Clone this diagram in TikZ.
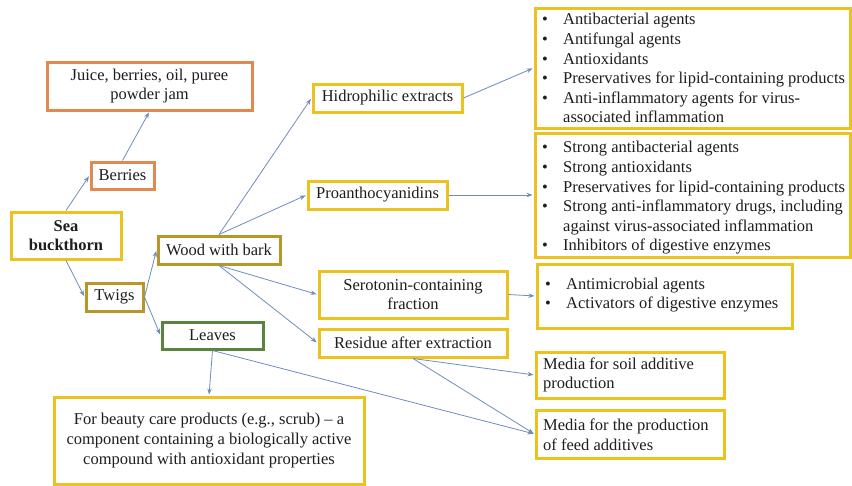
\documentclass[tikz,border=0pt]{standalone}
\usepackage{fontspec}
\setmainfont{Liberation Serif}
\usetikzlibrary{arrows.meta}
\definecolor{ybord}{RGB}{236,194,32}
\definecolor{gbord}{RGB}{184,150,40}
\definecolor{obord}{RGB}{226,137,80}
\definecolor{lbord}{RGB}{88,132,62}
\definecolor{arrowc}{RGB}{110,140,190}
\definecolor{txt}{RGB}{30,30,30}
\begin{document}
\begin{tikzpicture}[x=1pt,y=-1pt,
  font=\fontsize{16.5}{19.6}\selectfont,
  bx/.style={draw=ybord, line width=3pt, fill=white, inner sep=0pt, align=center, text=txt},
  gbx/.style={bx, draw=gbord},
  obx/.style={bx, draw=obord},
  lbx/.style={bx, draw=lbord},
  btxt/.style={inner sep=0pt, anchor=west, text=txt, align=left},
  con/.style={draw=arrowc, line width=0.8pt, shorten >=1pt, -{Stealth[length=6pt,width=4.5pt]}}]
\useasboundingbox (0,0) rectangle (852,485);

% left part
\node[obx, minimum width=205, minimum height=48] (juice) at (149.5,86) {Juice, berries, oil, puree\\powder jam};
\node[obx, minimum width=63, minimum height=27] (berries) at (122.5,175.5) {Berries};
\node[bx, minimum width=110, minimum height=47] (sb) at (66,235.5) {\textbf{Sea}\\\textbf{buckthorn}};
\node[gbx, minimum width=57, minimum height=28] (twigs) at (114.5,297) {Twigs};
\node[gbx, minimum width=122, minimum height=28] (wood) at (219,250) {Wood with bark};
\node[lbx, minimum width=101, minimum height=27] (leaves) at (212.5,335.5) {Leaves};
\node[bx, minimum width=310, minimum height=87] (beauty) at (209,440.5) {For beauty care products (e.g., scrub) – a\\component containing a biologically active\\compound with antioxidant properties};

% middle column
\node[bx, minimum width=149, minimum height=28] (hidro) at (387.5,98) {Hidrophilic extracts};
\node[bx, minimum width=139, minimum height=28] (proanth) at (377.5,195) {Proanthocyanidins};
\node[bx, minimum width=188, minimum height=47] (sero) at (413,294.5) {Serotonin-containing\\fraction};
\node[bx, minimum width=188, minimum height=28] (residue) at (413,343) {Residue after extraction};

% right column
\node[bx, minimum width=315, minimum height=120] (box1) at (692.5,68) {};
\node[btxt] (box1t) at (542,70) {\begin{tabular}{@{}p{21pt}@{}l@{}}
\textbullet & Antibacterial agents\\
\textbullet & Antifungal agents\\
\textbullet & Antioxidants\\
\textbullet & Preservatives for lipid-containing products\\
\textbullet & Anti-inflammatory agents for virus-\\
 & associated inflammation
\end{tabular}};

\node[bx, minimum width=315, minimum height=124] (box2) at (692.5,195) {};
\node[btxt] (box2t) at (542,198) {\begin{tabular}{@{}p{21pt}@{}l@{}}
\textbullet & Strong antibacterial agents\\
\textbullet & Strong antioxidants\\
\textbullet & Preservatives for lipid-containing products\\
\textbullet & Strong anti-inflammatory drugs, including\\
 & against virus-associated inflammation\\
\textbullet & Inhibitors of digestive enzymes
\end{tabular}};

\node[bx, minimum width=255, minimum height=64] (box3) at (664.5,296) {};
\node[btxt] (box3t) at (545,295) {\begin{tabular}{@{}p{21pt}@{}l@{}}
\textbullet & Antimicrobial agents\\
\textbullet & Activators of digestive enzymes
\end{tabular}};

\node[bx, minimum width=188, minimum height=46] (soil) at (630,375) {};
\node[btxt] (soilt) at (543,375) {Media for soil additive\\production};
\node[bx, minimum width=188, minimum height=48] (feed) at (630,434) {};
\node[btxt] (feedt) at (543,435) {Media for the production\\of feed additives};

% connectors
\draw[con] (sb.north) -- (berries.west);
\draw[con] (berries.north) -- (juice.south);
\draw[con] (sb.south) -- (twigs.west);
\draw[con] (twigs.east) -- (wood.west);
\draw[con] (twigs.east) -- (leaves.west);
\draw[con] (wood.north) -- (hidro.west);
\draw[con] (wood.north) -- (proanth.west);
\draw[con] (wood.south) -- (sero.west);
\draw[con] (wood.south) -- (residue.west);
\draw[con] (hidro.east) -- (box1.west);
\draw[con] (proanth.east) -- (box2.west);
\draw[con] (sero.east) -- (box3.west);
\draw[con] (residue.south) -- (soil.west);
\draw[con] (residue.south) -- (feed.west);
\draw[con] (leaves.south) -- (beauty.north);
\draw[con] (leaves.south) -- (feed.west);
\end{tikzpicture}
\end{document}
